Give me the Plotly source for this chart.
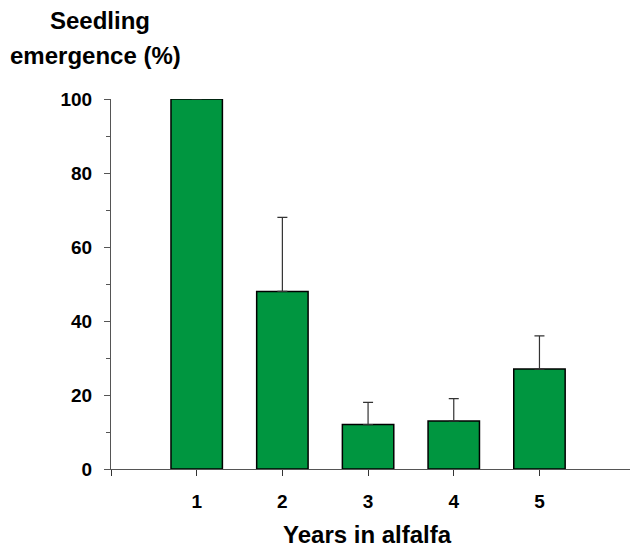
import plotly.graph_objects as go

years = [1, 2, 3, 4, 5]
year_labels = ["1", "2", "3", "4", "5"]
emergence = [100, 48, 12, 13, 27]
err_upper = [0, 20, 6, 6, 9]
y_ticks = [0, 20, 40, 60, 80, 100]

FONT = "Liberation Sans, Arial, Helvetica, sans-serif"
OFF = 8  # page body margin
W, H = 638 - OFF, 551 - OFF
L, R, T, B = 111 - OFF, 0, 99 - OFF, 82
pw, ph = W - L - R, H - T - B


def px_x(p):
    return (p - OFF - L) / pw


def px_y(p):
    return (H - B - (p - OFF)) / ph


fig = go.Figure()
fig.add_trace(go.Bar(
    x=years, y=emergence, width=0.6,
    marker=dict(color="rgb(0,150,64)", line=dict(color="black", width=1.5)),
    error_y=dict(type="data", symmetric=False, array=err_upper,
                 arrayminus=[0] * len(err_upper),
                 color="#333", thickness=1.2, width=5),
    showlegend=False,
))

fig.update_layout(
    width=W, height=H,
    margin=dict(l=L, r=R, t=T, b=B, pad=0),
    plot_bgcolor="white", paper_bgcolor="white",
    font=dict(family=FONT, color="black", size=19),
    xaxis=dict(
        range=[0, 6.15], showgrid=False, zeroline=False,
        showline=True, linecolor="#555", linewidth=1,
        tickvals=[0] + years, ticktext=[""] + year_labels,
        ticks="outside", ticklen=6, tickcolor="#333", tickwidth=1,
        tickfont=dict(family=FONT, size=19, weight="bold"),
        ticklabelstandoff=9,
    ),
    yaxis=dict(
        range=[0, 100], showgrid=False, zeroline=False,
        showline=True, linecolor="#555", linewidth=1,
        tickvals=y_ticks,
        ticks="outside", ticklen=6, tickcolor="#555", tickwidth=1,
        minor=dict(dtick=10, tick0=0, ticks="outside", ticklen=4, tickcolor="#555"),
        tickfont=dict(family=FONT, size=19, weight="bold"),
        ticklabelstandoff=8,
    ),
    annotations=[
        dict(text="Seedling", xref="paper", yref="paper",
             x=px_x(99.5), y=px_y(21), xanchor="center", yanchor="middle",
             showarrow=False, font=dict(family=FONT, size=24, weight="bold")),
        dict(text="emergence (%)", xref="paper", yref="paper",
             x=px_x(95), y=px_y(55), xanchor="center", yanchor="middle",
             showarrow=False, font=dict(family=FONT, size=24, weight="bold")),
        dict(text="Years in alfalfa", xref="paper", yref="paper",
             x=px_x(367.5), y=px_y(550), xanchor="center", yanchor="bottom",
             showarrow=False, font=dict(family=FONT, size=24, weight="bold")),
    ],
)

fig.write_html("out.html")
